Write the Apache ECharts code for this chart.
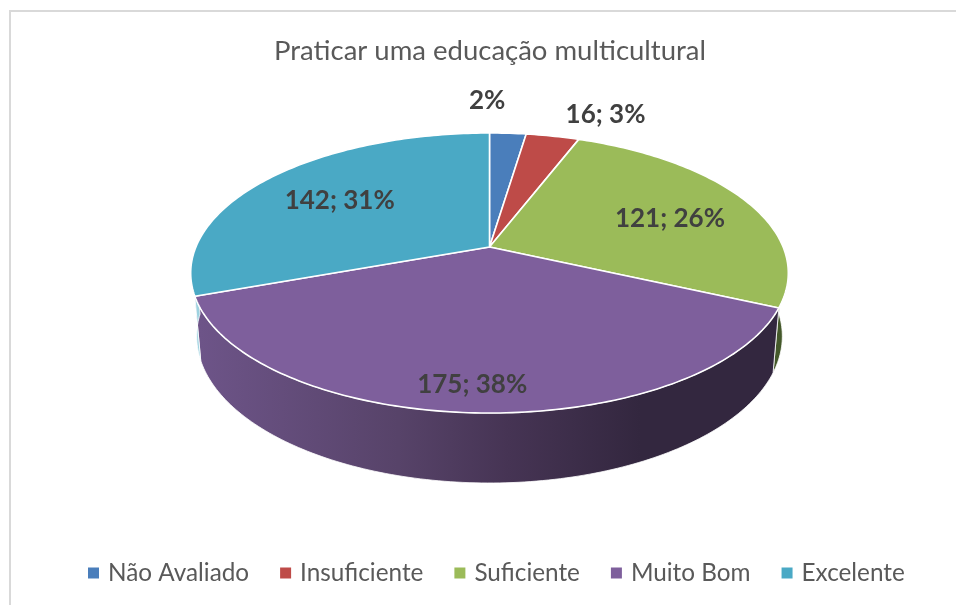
<!DOCTYPE html>
<html><head><meta charset="utf-8">
<style>html,body{margin:0;padding:0;background:#fff}#c{width:956px;height:605px}</style>
<script src="https://cdn.jsdelivr.net/npm/echarts@6/dist/echarts.min.js"></script>
</head><body><div id="c"></div>
<script>
const titleText = 'Praticar uma educação multicultural';
const categories = ['Não Avaliado', 'Insuficiente', 'Suficiente', 'Muito Bom', 'Excelente'];
const values = [11, 16, 121, 175, 142];
const labels = ['2%', '16; 3%', '121; 26%', '175; 38%', '142; 31%'];
const colors = ['#4a7ebb', '#be4b48', '#9bbb59', '#7e5f9c', '#4aa9c5'];

// layout of the perspective disc
const apex = [489.5, 247], A = 293.6, B = 135.2, K = 0.1857;
const depth = { sx: 0.98, sy: 1.048, d: 62 };
const labelRadius = [1.15, 1.15, 0.62, 0.62, 0.62];
const labelNudge = [[-23, -19], [45, -8], [19, 2], [-9, 43], [-10, -1]];
const total = values.reduce((a, b) => a + b, 0);
const starts = values.map((_, i) => values.slice(0, i).reduce((a, b) => a + b, 0) / total * 360);
const ends = values.map((_, i) => values.slice(0, i + 1).reduce((a, b) => a + b, 0) / total * 360);

function disc(deg, r) {
  const t = deg * Math.PI / 180, X = r * Math.sin(t), Y = -r * Math.cos(t), w = 1 - K * Y;
  return [A * X / w, B * Y / w];
}
const top2 = (deg, r) => { const p = disc(deg, r); return [apex[0] + p[0], apex[1] + p[1]]; };
const low = deg => { const p = disc(deg, 1); return [apex[0] + p[0] * depth.sx, apex[1] + p[1] * depth.sy + depth.d]; };
function arc(f, a, b) { const n = Math.max(2, Math.ceil(Math.abs(b - a))), o = []; for (let i = 0; i <= n; i++) o.push(f(a + (b - a) * i / n)); return o; }

// visible side walls: [angle from, angle to, fill]
const purpleSide = { type: 'linear', x: 200, y: 0, x2: 640, y2: 0, global: true, colorStops: [
  { offset: 0, color: '#6d5488' }, { offset: 0.45, color: '#574369' }, { offset: 0.7, color: '#463454' }, { offset: 1, color: '#33273f' }] };
const walls = [[92, ends[2], '#44582a'], [starts[3], ends[3], purpleSide], [starts[4], 268, '#9ed2e0']];

const fontFamily = 'Lato, "Open Sans", sans-serif';
const series = [{
  type: 'custom', name: 'lados', coordinateSystem: 'none', silent: true, z: 1,
  data: walls.map((_, i) => [i]),
  renderItem(params) {
    const w = walls[params.dataIndex];
    return { type: 'polygon', shape: { points: arc(d => top2(d, 1), w[0], w[1]).concat(arc(low, w[1], w[0])) },
      style: { fill: w[2], stroke: '#fff', lineWidth: 0.8 } };
  }
}];
categories.forEach((name, i) => series.push({
  type: 'custom', name, coordinateSystem: 'none', silent: true, z: 2,
  itemStyle: { color: colors[i] },
  data: [[values[i]]],
  renderItem() {
    const mid = (starts[i] + ends[i]) / 2, lp = top2(mid, labelRadius[i]);
    return { type: 'group', children: [
      { type: 'polygon', shape: { points: [apex].concat(arc(d => top2(d, 1), starts[i], ends[i])) },
        style: { fill: colors[i], stroke: '#fff', lineWidth: 1.6, lineJoin: 'round' } },
      { type: 'text', z2: 50, style: { text: labels[i], x: lp[0] + labelNudge[i][0], y: lp[1] + labelNudge[i][1],
        align: 'center', verticalAlign: 'middle', fontSize: 26, fontWeight: 700, fontFamily, fill: '#404040' } }
    ] };
  }
}));

const chart = echarts.init(document.getElementById('c'));
chart.setOption({
  animation: false, backgroundColor: '#fff',
  title: { text: titleText, left: 485, textAlign: 'center', top: 32, textStyle: { fontSize: 27.5, fontWeight: 400, fontFamily, color: '#595959' } },
  legend: { data: categories, left: 83, top: 556, icon: 'rect', itemWidth: 11, itemHeight: 11, itemGap: 31, selectedMode: false,
    textStyle: { fontSize: 24.3, fontFamily, color: '#595959', padding: [0, 0, 0, 4] } },
  graphic: [{ type: 'polyline', silent: true, shape: { points: [[10, 605], [10, 11], [956, 11]] }, style: { stroke: '#d9d9d9', lineWidth: 2, fill: null } }],
  series
});
</script></body></html>
